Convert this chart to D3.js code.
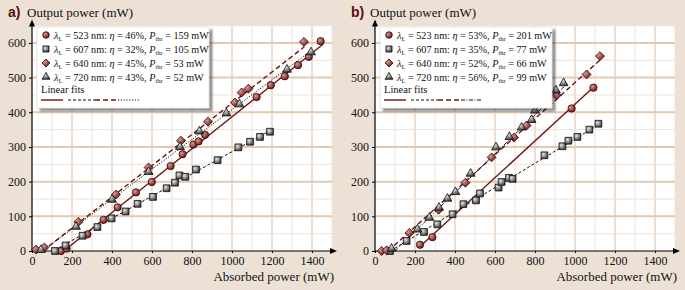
<!DOCTYPE html>
<html lang="en">
<head>
<meta charset="UTF-8">
<title>Output power vs absorbed power</title>
<style>
  body { margin: 0; background: #ede1d5; }
  svg, svg text { font-family: "Liberation Serif", "Times New Roman", serif; }
</style>
</head>
<body>
<svg width="685" height="290" id="svg"></svg>
<script src="https://d3js.org/d3.v7.min.js"></script>
<script>
// tick labels
const xTicks = [0, 200, 400, 600, 800, 1000, 1200, 1400]
const yTicks = [0, 100, 200, 300, 400, 500, 600]

// panel a) measured points [absorbed, output] in mW
const a523 = [[145, 0], [173, 7], [277, 48], [358, 90], [428, 126], [520, 169], [599, 199], [693, 245], [753, 279], [807, 307], [833, 316], [865, 335], [1123, 444], [1194, 478], [1264, 504], [1330, 536], [1384, 560], [1443, 605]]
const a607 = [[115, 0], [168, 16], [253, 44], [327, 69], [398, 94], [468, 114], [528, 136], [605, 156], [673, 181], [715, 197], [737, 218], [767, 214], [820, 235], [928, 262], [1032, 299], [1090, 315], [1140, 329], [1190, 344]]
const a640 = [[20, 4], [62, 10], [232, 84], [420, 163], [583, 241], [745, 318], [880, 373], [1015, 428], [1048, 457], [1082, 468], [1360, 603]]
const a720 = [[45, 3], [220, 70], [400, 148], [583, 228], [740, 300], [837, 345], [972, 397], [1037, 423], [1275, 523], [1395, 573]]

// panel b)
const b523 = [[225, 18], [287, 40], [983, 411], [1092, 471]]
const b607 = [[75, 0], [158, 29], [245, 55], [312, 77], [388, 106], [442, 135], [505, 146], [525, 166], [618, 183], [633, 199], [670, 211], [688, 208], [847, 276], [937, 302], [967, 318], [1012, 329], [1072, 350], [1117, 367]]
const b640 = [[33, 0], [58, 2], [172, 52], [318, 119], [452, 197], [583, 270], [695, 327], [758, 362], [908, 449], [1058, 509], [1125, 562]]
const b720 = [[83, 7], [212, 62], [272, 96], [320, 125], [362, 151], [402, 170], [478, 223], [605, 299], [672, 329], [733, 356], [783, 378], [800, 405], [835, 428], [862, 444], [905, 463], [943, 484]]

// legend values: wavelength, slope efficiency (%), threshold (mW)
const wavelengths = [523, 607, 640, 720]
const aEta = [46, 32, 45, 43]
const aPth = [159, 105, 53, 52]
const bEta = [53, 35, 52, 56]
const bPth = [201, 77, 66, 99]
// extent of each fit line
const aFitRange = [[159, 1455], [112, 1195], [53, 1362], [52, 1400]]
const bFitRange = [[225, 1092], [77, 1117], [66, 1125], [99, 950]]

const red = "#6e1414"
const serif = "Liberation Serif, Times New Roman, serif"
const svg = d3.select("svg#svg").attr("font-family", serif)
const defs = svg.append("defs")

function grad(id, c0, c1) {
    const g = defs.append("radialGradient").attr("id", id).attr("cx", "35%").attr("cy", "35%").attr("r", "70%")
    g.append("stop").attr("offset", "0%").attr("stop-color", c0)
    g.append("stop").attr("offset", "100%").attr("stop-color", c1)
}
grad("gRed", "#d99a94", "#6a1212")
grad("gGray", "#e6e6e6", "#3a3a3a")

const shadow = defs.append("filter").attr("id", "shadow").attr("x", "-10%").attr("y", "-10%").attr("width", "130%").attr("height", "130%")
shadow.append("feDropShadow").attr("dx", 3).attr("dy", 3).attr("stdDeviation", 1.2).attr("flood-color", "#000").attr("flood-opacity", 0.45)

// square turned by 45 degrees
const squareDiamond = {
    draw(context, size) {
        const r = Math.sqrt(size) / Math.SQRT2
        context.moveTo(0, -r); context.lineTo(r, 0); context.lineTo(0, r); context.lineTo(-r, 0); context.closePath()
    }
}

const styles = [
    { symbol: d3.symbolCircle, size: 42, fill: "url(#gRed)", stroke: "#3a0505", line: red, width: 1.4 },
    { symbol: d3.symbolSquare, size: 46, fill: "url(#gGray)", stroke: "#111", line: "#111", width: 1 },
    { symbol: squareDiamond, size: 40, fill: "url(#gRed)", stroke: "#3a0505", line: red, width: 1.4 },
    { symbol: d3.symbolTriangle, size: 34, fill: "url(#gGray)", stroke: "#111", line: "#111", width: 1 }
]

function drawPanel(left, letter, series, eta, pth, ranges, dashes) {
    const x = d3.scaleLinear().domain([0, 1500]).range([left, left + 300])
    const y = d3.scaleLinear().domain([0, 650]).range([251, 25.6])
    const g = svg.append("g")

    g.append("rect").attr("x", x(0)).attr("y", y(650)).attr("width", x(1500) - x(0)).attr("height", y(0) - y(650)).attr("fill", "#fff")

    // grid
    d3.range(100, 1501, 100).forEach(v => {
        g.append("line").attr("x1", x(v)).attr("x2", x(v)).attr("y1", y(0)).attr("y2", y(650))
            .attr("stroke", v % 200 === 0 ? "#e3cdb7" : "#efe2d5").attr("stroke-width", v % 200 === 0 ? 1.3 : 1)
    })
    d3.range(50, 651, 50).forEach(v => {
        g.append("line").attr("x1", x(0)).attr("x2", x(1500)).attr("y1", y(v)).attr("y2", y(v))
            .attr("stroke", v % 100 === 0 ? "#e2c9b0" : "#efe2d5").attr("stroke-width", v % 100 === 0 ? 2 : 1)
    })

    // axes
    const xAxis = d3.axisBottom(x).tickValues(xTicks).tickFormat(d3.format("d")).tickSize(2).tickPadding(3)
    const yAxis = d3.axisLeft(y).tickValues(yTicks).tickFormat(d3.format("d")).tickSize(3).tickPadding(3)
    const gx = g.append("g").attr("transform", `translate(0,${y(0)})`).call(xAxis)
    const gy = g.append("g").attr("transform", `translate(${x(0)},0)`).call(yAxis)
    ;[gx, gy].forEach(a => {
        a.attr("font-family", serif).attr("font-size", 12)
        a.select(".domain").remove()
        a.selectAll("text").attr("fill", "#111")
    })
    g.append("line").attr("x1", x(0)).attr("x2", x(1500)).attr("y1", y(0)).attr("y2", y(0)).attr("stroke", "#000").attr("stroke-width", 1.2)
    g.append("line").attr("x1", x(0)).attr("x2", x(0)).attr("y1", y(0)).attr("y2", y(650) - 2).attr("stroke", "#000").attr("stroke-width", 1.2)
    g.append("path").attr("d", `M${x(1500) + 5},${y(0)} l-7,-3 l0,6 z`).attr("fill", "#000")
    g.append("path").attr("d", `M${x(0)},${y(650) - 6} l-3,7 l6,0 z`).attr("fill", "#000")

    // titles
    g.append("text").attr("x", left - 24).attr("y", 17).style("font-family", "Liberation Sans, Arial, sans-serif").attr("font-weight", "bold")
        .attr("font-size", 14).attr("fill", "#5a0c0c").text(letter + ")")
    g.append("text").attr("x", left - 5).attr("y", 17).attr("font-size", 13).attr("fill", "#111").text("Output power (mW)")
    g.append("text").attr("x", x(1500) + 2).attr("y", 281).attr("text-anchor", "end").attr("font-size", 13).attr("fill", "#111").text("Absorbed power (mW)")

    // fit lines
    series.forEach((s, i) => {
        const st = styles[i]
        const fit = ranges[i].map(v => [v, eta[i] / 100 * (v - pth[i])])
        g.append("path").datum(fit)
            .attr("d", d3.line().x(d => x(d[0])).y(d => y(Math.max(0, d[1]))))
            .attr("fill", "none").attr("stroke", st.line).attr("stroke-width", st.width)
            .attr("stroke-dasharray", dashes[i])
    })
    // markers
    series.forEach((s, i) => {
        const st = styles[i]
        g.selectAll(null).data(s).join("path")
            .attr("d", d3.symbol().type(st.symbol).size(st.size))
            .attr("transform", d => `translate(${x(d[0])},${y(d[1])})`)
            .attr("fill", st.fill).attr("stroke", st.stroke).attr("stroke-width", 0.8)
    })

    // legend
    const lg = g.append("g").attr("transform", `translate(${left + 5},27)`)
    lg.append("rect").attr("width", 172).attr("height", 81).attr("fill", "#fff").attr("stroke", "#ccc").attr("stroke-width", 0.5).attr("filter", "url(#shadow)")
    wavelengths.forEach((w, i) => {
        const st = styles[i]
        const yy = 8 + i * 14
        lg.append("path").attr("d", d3.symbol().type(st.symbol).size(st.size * 0.8))
            .attr("transform", `translate(9,${yy})`).attr("fill", st.fill).attr("stroke", st.stroke).attr("stroke-width", 0.8)
        const t = lg.append("text").attr("x", 17).attr("y", yy + 3.5).attr("font-size", 10.2).attr("fill", "#111")
        t.append("tspan").attr("font-style", "italic").text("λ")
        t.append("tspan").attr("font-size", 6.5).attr("dy", 2).text("L")
        t.append("tspan").attr("dy", -2).text(` = ${w} nm: `)
        t.append("tspan").attr("font-style", "italic").text("η")
        t.append("tspan").text(` = ${eta[i]}%, `)
        t.append("tspan").attr("font-style", "italic").text("P")
        t.append("tspan").attr("font-size", 6.5).attr("dy", 2).text("thr")
        t.append("tspan").attr("dy", -2).text(` = ${pth[i]} mW`)
    })
    lg.append("text").attr("x", 4).attr("y", 66).attr("font-size", 10.5).attr("fill", "#111").text("Linear fits")
    const segs = [[4, 26], [31, 58], [58, 80], [81, 102]]
    segs.forEach((sg, i) => {
        lg.append("line").attr("x1", sg[0]).attr("x2", sg[1]).attr("y1", 73).attr("y2", 73)
            .attr("stroke", styles[i].line).attr("stroke-width", styles[i].width).attr("stroke-dasharray", dashes[i])
    })
}

drawPanel(32, "a", [a523, a607, a640, a720], aEta, aPth, aFitRange, [null, "3,2", "5,3", "1.2,1.6"])
drawPanel(375, "b", [b523, b607, b640, b720], bEta, bPth, bFitRange, [null, "3,2", "5,3", "4,1.5,1,1.5"])
</script>
</body>
</html>
